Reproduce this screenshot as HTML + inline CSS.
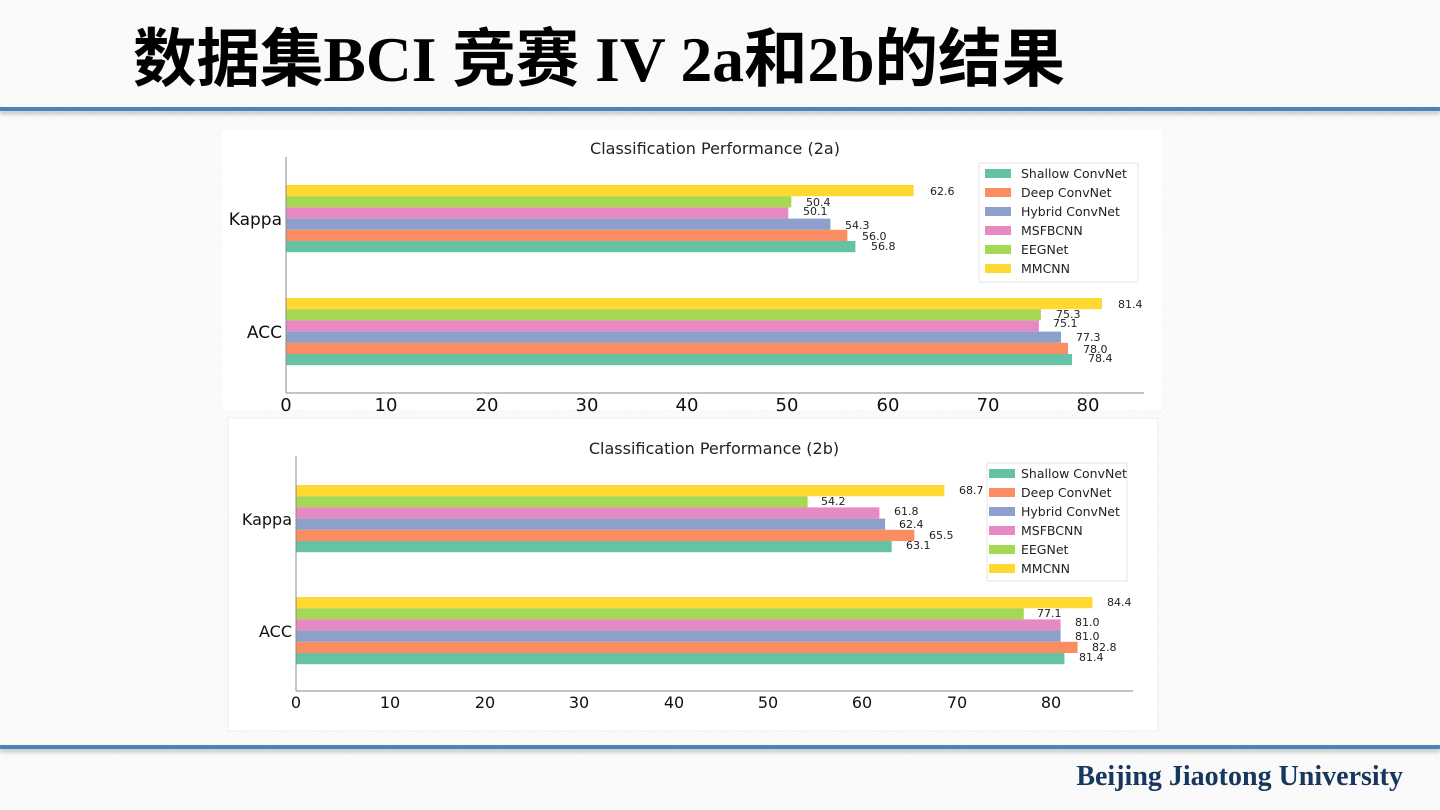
<!DOCTYPE html>
<html><head><meta charset="utf-8"><style>
body{margin:0;width:1440px;height:810px;overflow:hidden;background:#fafafa;
background-image:repeating-linear-gradient(135deg,#f6f6f6 0 1px,#fbfbfb 1px 4px);position:relative;font-family:"DejaVu Sans",sans-serif}
.title{position:absolute;left:133px;top:20px;font-family:"Liberation Serif","Noto Sans CJK SC",serif;font-weight:bold;font-size:63.5px;line-height:80px;color:#000;letter-spacing:0;white-space:nowrap}
.line{position:absolute;left:0;width:1440px;height:4px;background:#4f81bd;box-shadow:0 3px 4px rgba(0,0,0,0.25)}
.foot{position:absolute;right:37px;top:761px;font-family:"Liberation Serif",serif;font-weight:bold;font-size:28px;color:#17375e}
svg{position:absolute;left:0;top:0}
</style></head><body>
<div class="title">数据集BCI 竞赛 IV 2a和2b的结果</div>
<div class="line" style="top:107px"></div>
<div class="line" style="top:745px"></div>
<div class="foot">Beijing Jiaotong University</div>
<svg width="1440" height="810" font-family="DejaVu Sans, sans-serif">
<rect x="222" y="130" width="940" height="280" fill="#fff"/>
<rect x="228" y="418" width="930" height="313" fill="#fff" stroke="#eee"/>
<!-- chart 1 -->
<text x="715" y="154" font-size="16" text-anchor="middle" fill="#222">Classification Performance (2a)</text>
<g>
<rect x="286" y="185" width="627.6" height="11.2" fill="#ffd92f"/>
<rect x="286" y="196.2" width="505.3" height="11.2" fill="#a6d854"/>
<rect x="286" y="207.4" width="502.3" height="11.2" fill="#e78ac3"/>
<rect x="286" y="218.6" width="544.4" height="11.2" fill="#8da0cb"/>
<rect x="286" y="229.8" width="561.4" height="11.2" fill="#fc8d62"/>
<rect x="286" y="241" width="569.4" height="11.2" fill="#66c2a5"/>
<rect x="286" y="298" width="816" height="11.2" fill="#ffd92f"/>
<rect x="286" y="309.2" width="754.9" height="11.2" fill="#a6d854"/>
<rect x="286" y="320.4" width="752.9" height="11.2" fill="#e78ac3"/>
<rect x="286" y="331.6" width="775" height="11.2" fill="#8da0cb"/>
<rect x="286" y="342.8" width="782" height="11.2" fill="#fc8d62"/>
<rect x="286" y="354" width="786" height="11.2" fill="#66c2a5"/>
</g>
<g font-size="11" fill="#222">
<text x="930" y="195">62.6</text><text x="806" y="206">50.4</text><text x="803" y="215">50.1</text>
<text x="845" y="229">54.3</text><text x="862" y="240">56.0</text><text x="871" y="250">56.8</text>
<text x="1118" y="308">81.4</text><text x="1056" y="318">75.3</text><text x="1053" y="327">75.1</text>
<text x="1076" y="341">77.3</text><text x="1083" y="353">78.0</text><text x="1088" y="362">78.4</text>
</g>
<line x1="286" y1="157" x2="286" y2="393" stroke="#888"/>
<line x1="286" y1="393" x2="1144" y2="393" stroke="#888"/>
<g font-size="18" fill="#111" text-anchor="middle">
<text x="286" y="411">0</text><text x="386" y="411">10</text><text x="487" y="411">20</text><text x="587" y="411">30</text>
<text x="687" y="411">40</text><text x="787" y="411">50</text><text x="888" y="411">60</text><text x="988" y="411">70</text><text x="1088" y="411">80</text>
</g>
<g font-size="17" fill="#111" text-anchor="end"><text x="282" y="225">Kappa</text><text x="282" y="338">ACC</text></g>
<rect x="979" y="163" width="159" height="119" fill="#fff" stroke="#e4e4e4"/>
<g font-size="12.5" fill="#222">
<rect x="985" y="169" width="26" height="9" fill="#66c2a5"/><text x="1021" y="178">Shallow ConvNet</text>
<rect x="985" y="188" width="26" height="9" fill="#fc8d62"/><text x="1021" y="197">Deep ConvNet</text>
<rect x="985" y="207" width="26" height="9" fill="#8da0cb"/><text x="1021" y="216">Hybrid ConvNet</text>
<rect x="985" y="226" width="26" height="9" fill="#e78ac3"/><text x="1021" y="235">MSFBCNN</text>
<rect x="985" y="245" width="26" height="9" fill="#a6d854"/><text x="1021" y="254">EEGNet</text>
<rect x="985" y="264" width="26" height="9" fill="#ffd92f"/><text x="1021" y="273">MMCNN</text>
</g>
<!-- chart 2 -->
<text x="714" y="454" font-size="16" text-anchor="middle" fill="#222">Classification Performance (2b)</text>
<g>
<rect x="296" y="485" width="648.4" height="11.2" fill="#ffd92f"/>
<rect x="296" y="496.2" width="511.6" height="11.2" fill="#a6d854"/>
<rect x="296" y="507.4" width="583.4" height="11.2" fill="#e78ac3"/>
<rect x="296" y="518.6" width="589.1" height="11.2" fill="#8da0cb"/>
<rect x="296" y="529.8" width="618.3" height="11.2" fill="#fc8d62"/>
<rect x="296" y="541" width="595.7" height="11.2" fill="#66c2a5"/>
<rect x="296" y="597" width="796.5" height="11.2" fill="#ffd92f"/>
<rect x="296" y="608.2" width="727.8" height="11.2" fill="#a6d854"/>
<rect x="296" y="619.4" width="764.6" height="11.2" fill="#e78ac3"/>
<rect x="296" y="630.6" width="764.6" height="11.2" fill="#8da0cb"/>
<rect x="296" y="641.8" width="781.6" height="11.2" fill="#fc8d62"/>
<rect x="296" y="653" width="768.4" height="11.2" fill="#66c2a5"/>
</g>
<g font-size="11" fill="#222">
<text x="959" y="494">68.7</text><text x="821" y="505">54.2</text><text x="894" y="515">61.8</text>
<text x="899" y="528">62.4</text><text x="929" y="539">65.5</text><text x="906" y="549">63.1</text>
<text x="1107" y="606">84.4</text><text x="1037" y="617">77.1</text><text x="1075" y="626">81.0</text>
<text x="1075" y="640">81.0</text><text x="1092" y="651">82.8</text><text x="1079" y="661">81.4</text>
</g>
<line x1="296" y1="456" x2="296" y2="691" stroke="#888"/>
<line x1="296" y1="691" x2="1133" y2="691" stroke="#888"/>
<g font-size="16" fill="#111" text-anchor="middle">
<text x="296" y="708">0</text><text x="390" y="708">10</text><text x="485" y="708">20</text><text x="579" y="708">30</text>
<text x="674" y="708">40</text><text x="768" y="708">50</text><text x="862" y="708">60</text><text x="957" y="708">70</text><text x="1051" y="708">80</text>
</g>
<g font-size="16" fill="#111" text-anchor="end"><text x="292" y="525">Kappa</text><text x="292" y="637">ACC</text></g>
<rect x="987" y="463" width="140" height="118" fill="#fff" stroke="#e4e4e4"/>
<g font-size="12.5" fill="#222">
<rect x="989" y="469" width="26" height="9" fill="#66c2a5"/><text x="1021" y="478">Shallow ConvNet</text>
<rect x="989" y="488" width="26" height="9" fill="#fc8d62"/><text x="1021" y="497">Deep ConvNet</text>
<rect x="989" y="507" width="26" height="9" fill="#8da0cb"/><text x="1021" y="516">Hybrid ConvNet</text>
<rect x="989" y="526" width="26" height="9" fill="#e78ac3"/><text x="1021" y="535">MSFBCNN</text>
<rect x="989" y="545" width="26" height="9" fill="#a6d854"/><text x="1021" y="554">EEGNet</text>
<rect x="989" y="564" width="26" height="9" fill="#ffd92f"/><text x="1021" y="573">MMCNN</text>
</g>
</svg>
</body></html>
